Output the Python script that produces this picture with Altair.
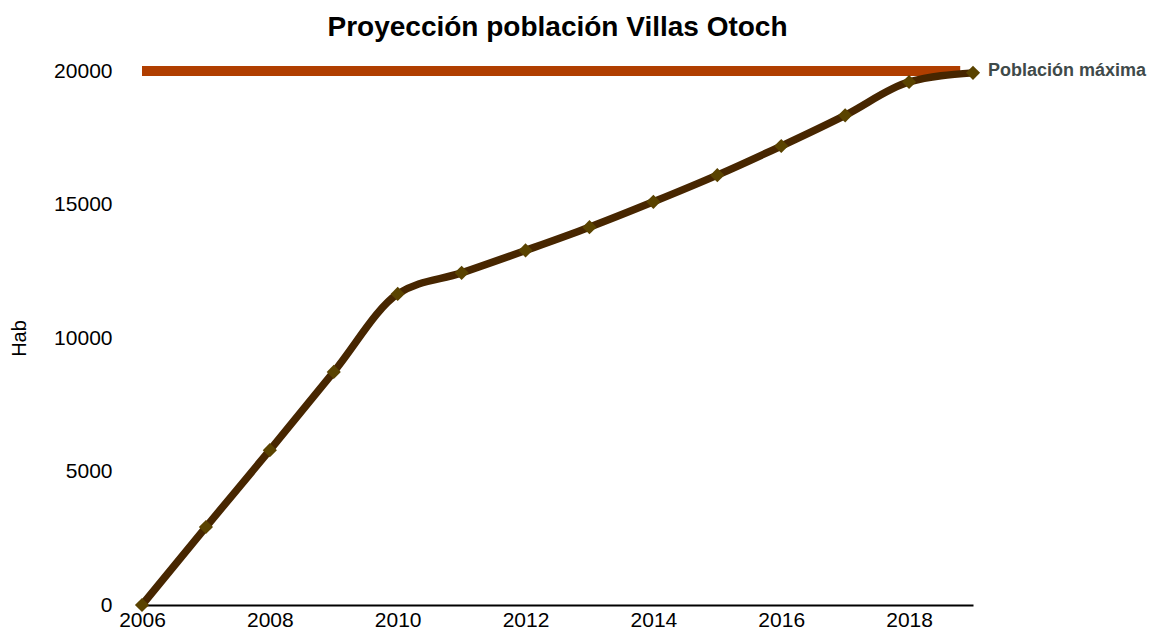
import altair as alt
import pandas as pd

years = [2006, 2007, 2008, 2009, 2010, 2011, 2012, 2013, 2014, 2015, 2016, 2017, 2018, 2019]
population = [0, 2920, 5800, 8730, 11650, 12440, 13280, 14150, 15100, 16100, 17190, 18340, 19590, 19930]
max_pop = 20000
max_start, max_end = 2006, 2018.8
max_label = "Población máxima"
title = "Proyección población Villas Otoch"
x_ticks = [2006, 2008, 2010, 2012, 2014, 2016, 2018]
y_ticks = [0, 5000, 10000, 15000, 20000]

df = pd.DataFrame({"Año": years, "Hab": population})
df_max = pd.DataFrame({"x": [max_start], "x2": [max_end], "y": [max_pop]})
df_lab = pd.DataFrame({"x": [years[-1]], "y": [max_pop], "t": [max_label]})

xscale = alt.Scale(domain=[2006, 2019], nice=False, zero=False)
yscale = alt.Scale(domain=[0, 20000], nice=False)

xaxis = alt.Axis(values=x_ticks, format="d", ticks=False, grid=False, domainColor="#000000",
                 domainWidth=2, labelFontSize=21, labelColor="#000000", labelPadding=4,
                 labelFlush=False, labelOverlap=False,
                 labelFont="Liberation Sans", title=None)
yaxis = alt.Axis(values=y_ticks, format="d", ticks=False, grid=False, domain=False,
                 labelFontSize=21, labelColor="#000000", labelPadding=30,
                 labelFlush=False, labelOverlap=False,
                 labelFont="Liberation Sans", title="Hab", titleFontSize=20,
                 titleFontWeight="normal", titleFont="Liberation Sans", titlePadding=24,
                 titleColor="#000000")

rule = alt.Chart(df_max).mark_rule(color="#B03E00", strokeWidth=10).encode(
    x=alt.X("x:Q", scale=xscale, axis=xaxis),
    x2="x2:Q",
    y=alt.Y("y:Q", scale=yscale, axis=yaxis),
)

line = alt.Chart(df).mark_line(color="#472600", strokeWidth=7.5, interpolate="monotone").encode(
    x=alt.X("Año:Q", scale=xscale),
    y=alt.Y("Hab:Q", scale=yscale),
)

pts = alt.Chart(df).mark_point(shape="diamond", filled=True, color="#5A4300", size=200, opacity=1).encode(
    x=alt.X("Año:Q", scale=xscale),
    y=alt.Y("Hab:Q", scale=yscale),
)

lab = alt.Chart(df_lab).mark_text(align="left", baseline="middle", dx=15, fontSize=18,
                                   fontWeight="bold", font="Liberation Sans", color="#3F4A4A").encode(
    x=alt.X("x:Q", scale=xscale),
    y=alt.Y("y:Q", scale=yscale),
    text="t:N",
)

chart = alt.layer(rule, line, pts, lab).properties(
    width=831, height=534,
    title=alt.TitleParams(title, fontSize=28, font="Liberation Sans", fontWeight="bold",
                          color="#000000", anchor="middle", offset=16),
    autosize=alt.AutoSizeParams(type="none"),
    padding={"left": 134, "top": 63, "right": 184, "bottom": 28},
).configure_view(stroke=None)

chart.save("out.html", embed_options={"renderer": "svg", "actions": False})
